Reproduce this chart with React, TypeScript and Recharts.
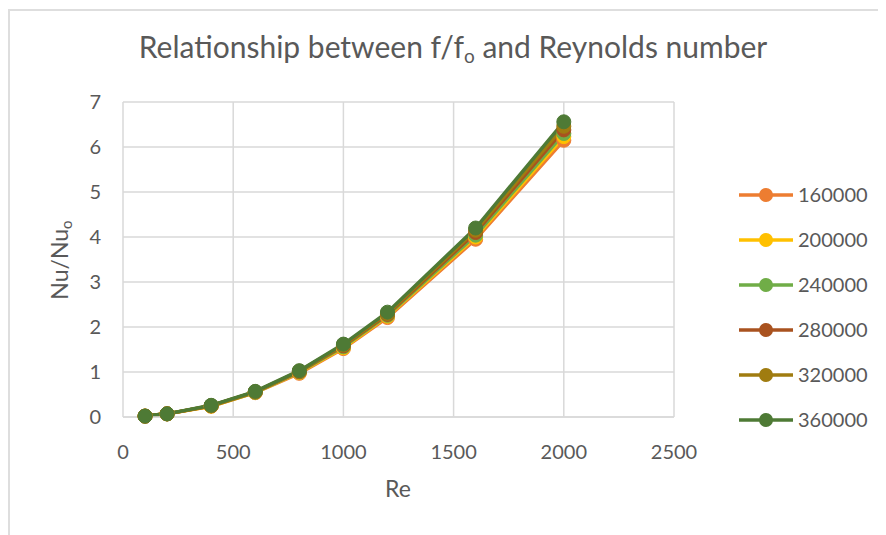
import React from 'react';
import { LineChart, Line, XAxis, YAxis, CartesianGrid } from 'recharts';

const reynolds = [100, 200, 400, 600, 800, 1000, 1200, 1600, 2000];
const seriesNames = ['160000', '200000', '240000', '280000', '320000', '360000'];
const s160000 = [0.02, 0.07, 0.24, 0.54, 0.97, 1.52, 2.21, 3.95, 6.15];
const s200000 = [0.02, 0.07, 0.24, 0.55, 0.99, 1.54, 2.24, 4.0, 6.23];
const s240000 = [0.02, 0.07, 0.25, 0.55, 1.0, 1.56, 2.26, 4.04, 6.3];
const s280000 = [0.02, 0.07, 0.25, 0.56, 1.01, 1.58, 2.28, 4.1, 6.38];
const s320000 = [0.02, 0.07, 0.25, 0.56, 1.02, 1.6, 2.3, 4.15, 6.46];
const s360000 = [0.02, 0.07, 0.26, 0.57, 1.03, 1.62, 2.33, 4.2, 6.56];
const seriesValues = [s160000, s200000, s240000, s280000, s320000, s360000];
const seriesColors = ['#ED7D31', '#FFC000', '#70AD47', '#A9521F', '#A07C10', '#4E7A35'];
const xTicks = [0, 500, 1000, 1500, 2000, 2500];
const yTicks = [0, 1, 2, 3, 4, 5, 6, 7];

const data = reynolds.map((re, i) => {
  const row: Record<string, number> = { re };
  seriesNames.forEach((n, k) => {
    row['s' + n] = seriesValues[k][i];
  });
  return row;
});

const FONT = 'Lato, "Open Sans", sans-serif';
const TXT = '#595959';

export default function App() {
  return (
    <div style={{ position: 'relative', width: 878, height: 527, overflow: 'hidden', background: '#fff' }}>
      <div
        style={{
          position: 'absolute',
          left: 0,
          top: 1,
          width: 1000,
          height: 1000,
          borderLeft: '2px solid #dedede',
          borderTop: '2px solid #dedede',
        }}
      />
      <div style={{ position: 'absolute', left: 0, top: 0 }}>
        <LineChart
          width={870}
          height={527}
          data={data}
          margin={{ top: 94, right: 204, bottom: 88, left: 55 }}
        >
          <CartesianGrid stroke="#d9d9d9" strokeWidth={1.5} />
          <XAxis
            dataKey="re"
            type="number"
            domain={[0, 2500]}
            ticks={xTicks}
            height={30}
            tickLine={false}
            tickSize={0}
            tickMargin={28}
            axisLine={{ stroke: '#d9d9d9', strokeWidth: 1.5 }}
            tick={{ fill: TXT, fontSize: 20, fontFamily: FONT }}
          />
          <YAxis
            type="number"
            domain={[0, 7]}
            ticks={yTicks}
            width={60}
            tickLine={false}
            tickSize={0}
            tickMargin={22}
            axisLine={false}
            tick={{ fill: TXT, fontSize: 20, fontFamily: FONT }}
          />
          {seriesNames.map((n, k) => (
            <Line
              key={n}
              type="linear"
              dataKey={'s' + n}
              name={n}
              stroke={seriesColors[k]}
              strokeWidth={3.5}
              dot={{ r: 7, fill: seriesColors[k], stroke: seriesColors[k], strokeWidth: 1 }}
              isAnimationActive={false}
            />
          ))}
        </LineChart>
      </div>
      <svg
        width={878}
        height={527}
        style={{ position: 'absolute', left: 0, top: 0, pointerEvents: 'none' }}
      >
        <text x={445} y={50} textAnchor="middle" fill={TXT} fontFamily={FONT} fontSize={30}>
          Relationship between f/f
          <tspan fontSize={19} dy={5}>o</tspan>
          <tspan dy={-5}> and Reynolds number</tspan>
        </text>
        <text x={390} y={489} textAnchor="middle" fill={TXT} fontFamily={FONT} fontSize={23}>
          Re
        </text>
        <text
          transform="translate(60 252) rotate(-90)"
          textAnchor="middle"
          fill={TXT}
          fontFamily={FONT}
          fontSize={23}
        >
          Nu/Nu
          <tspan fontSize={15} dy={4}>o</tspan>
        </text>
        {seriesNames.map((n, k) => {
          const y = 187 + k * 45;
          return (
            <g key={n}>
              <line x1={731} x2={785} y1={y} y2={y} stroke={seriesColors[k]} strokeWidth={3.5} />
              <circle cx={758} cy={y} r={7} fill={seriesColors[k]} />
              <text x={790} y={y + 7} fill={TXT} fontFamily={FONT} fontSize={20}>
                {n}
              </text>
            </g>
          );
        })}
      </svg>
    </div>
  );
}
